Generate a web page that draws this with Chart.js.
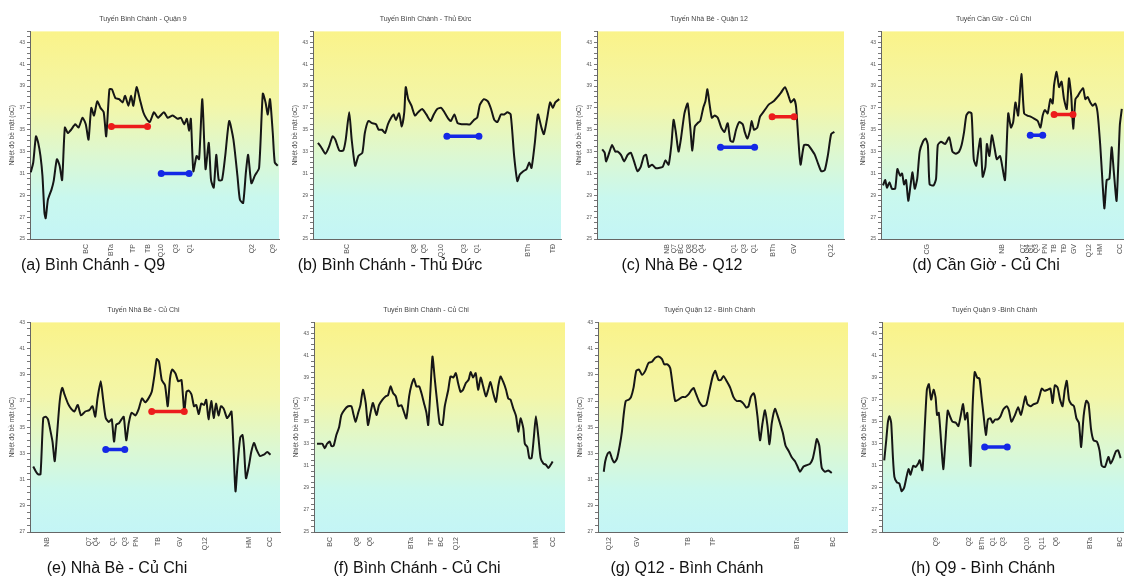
<!DOCTYPE html>
<html>
<head>
<meta charset="utf-8">
<script src="https://cdn.jsdelivr.net/npm/chart.js@4/dist/chart.umd.min.js"></script>
<style>
  html, body { margin: 0; padding: 0; background: #fff; width: 1124px; height: 587px; overflow: hidden; }
  body { position: relative; font-family: "Liberation Sans", Arial, sans-serif; }
  canvas { position: absolute; }
  .cap { position: absolute; width: 300px; text-align: center; font-size: 16px; line-height: 20px; color: #111; z-index: 2; white-space: nowrap; }
</style>
</head>
<body>
<canvas id="a" width="280" height="268" style="left:3px;top:0px"></canvas>
<canvas id="b" width="279" height="268" style="left:286px;top:0px"></canvas>
<canvas id="c" width="278" height="268" style="left:570px;top:0px"></canvas>
<canvas id="d" width="279" height="268" style="left:854px;top:0px"></canvas>
<canvas id="e" width="281" height="270" style="left:3px;top:291px"></canvas>
<canvas id="f" width="278" height="270" style="left:287px;top:291px"></canvas>
<canvas id="g" width="277" height="270" style="left:571px;top:291px"></canvas>
<canvas id="h" width="279" height="270" style="left:855px;top:291px"></canvas>

<div class="cap" style="left:-57px;top:255px">(a) Bình Chánh - Q9</div>
<div class="cap" style="left:240px;top:255px">(b) Bình Chánh - Thủ Đức</div>
<div class="cap" style="left:532px;top:255px">(c) Nhà Bè - Q12</div>
<div class="cap" style="left:836px;top:255px">(d) Cần Giờ - Củ Chi</div>
<div class="cap" style="left:-33px;top:558px">(e) Nhà Bè - Củ Chi</div>
<div class="cap" style="left:267px;top:558px">(f) Bình Chánh - Củ Chi</div>
<div class="cap" style="left:537px;top:558px">(g) Q12 - Bình Chánh</div>
<div class="cap" style="left:833px;top:558px">(h) Q9 - Bình Chánh</div>

<script>
// distance along the route (% of route length) and surface temperature (oC)
const distA = [0.3,1.3,2.4,3.3,4.2,5.0,5.8,6.3,7.2,8.6,9.5,10.8,11.9,12.9,14.0,15.2,16.5,18.2,19.5,21.1,22.4,23.5,24.6,25.7,27.0,28.3,29.6,30.6,31.9,32.9,34.3,35.8,37.2,38.2,39.5,40.6,41.5,42.8,44.1,45.5,46.8,48.1,49.8,51.4,53.8,55.3,57.3,59.3,60.6,61.9,63.0,63.9,64.6,65.6,66.9,67.9,69.2,70.5,71.8,72.7,73.8,74.8,75.8,77.1,78.4,80.0,81.7,83.3,84.3,85.6,86.7,87.6,88.9,90.3,92.0,93.5,94.6,95.5,96.4,97.5,98.3,99.5];
const tempA = [31.1,32.0,34.4,33.8,32.6,30.8,27.4,26.9,28.6,29.5,30.3,32.3,31.7,30.4,35.2,34.7,35.0,35.5,35.2,36.1,35.5,34.1,37.0,36.3,37.6,37.0,36.6,34.4,38.7,38.7,37.9,37.8,37.5,38.1,37.2,38.1,37.2,38.9,37.8,36.6,36.0,35.7,36.6,36.1,36.6,36.1,36.3,36.0,36.1,35.5,36.0,34.9,36.0,31.2,32.6,32.3,37.8,31.4,33.8,30.4,29.7,32.7,30.4,30.4,32.6,35.8,34.1,30.8,28.6,28.3,31.1,32.7,30.1,30.8,31.5,38.3,37.5,36.4,37.8,34.7,32.0,31.7];
const stationPosA = [22.7,32.7,41.5,47.4,52.7,58.6,64.3,89.3,97.5];
const stationNamesA = ['BC','BTa','TP','TB','Q10','Q3','Q1','Q2','Q9'];
const hotSpanA = [32.7, 47.2], hotTempA = 35.3;
const coolSpanA = [52.7, 63.9], coolTempA = 31.0;

const distB = [2.0,3.3,5.0,6.4,7.9,9.0,10.6,12.2,13.2,14.6,15.6,17.0,18.3,19.9,20.9,22.3,23.8,25.4,26.5,27.8,29.1,30.2,31.5,32.5,33.4,34.7,35.8,36.8,37.4,38.4,39.7,41.1,42.4,44.0,45.7,47.4,48.7,50.1,51.7,53.0,54.6,55.6,57.0,58.3,59.9,61.6,63.3,64.9,66.2,67.3,68.9,70.5,71.8,73.1,74.4,75.8,77.1,78.4,79.7,81.1,82.4,83.4,84.8,86.1,87.2,88.1,89.4,90.7,92.1,93.1,94.3,95.6,96.7,97.7,99.3];
const tempB = [33.8,33.4,32.8,33.4,34.4,34.1,33.1,33.1,34.1,36.6,34.1,31.7,32.6,32.9,34.7,35.8,35.6,35.5,35.0,35.0,34.7,35.5,36.1,36.4,35.9,36.5,35.3,36.6,38.9,37.8,37.2,36.3,36.6,36.9,36.4,35.8,36.4,36.9,37.0,36.6,36.0,35.8,36.4,35.6,35.5,35.5,35.5,35.9,36.1,37.3,37.8,37.6,36.9,35.9,35.7,36.4,36.4,36.6,36.4,32.6,30.3,30.9,31.2,31.4,32.0,31.5,33.7,36.4,35.2,34.6,35.9,37.5,37.0,37.5,37.8];
const stationPosB = [13.9,40.8,44.8,51.7,60.9,66.0,86.8,97.0];
const stationNamesB = ['BC','Q8','Q5','Q10','Q3','Q1','BTh','TĐ'];
const coolSpanB = [54.0, 66.9], coolTempB = 34.4;

const distC = [2.1,3.1,3.7,5.1,6.1,7.4,8.4,9.7,11.0,12.4,13.7,15.0,16.4,17.7,19.0,19.9,21.0,22.3,23.7,25.0,26.6,27.7,29.0,30.1,31.0,31.9,33.0,34.0,35.4,36.7,37.8,38.6,39.6,40.7,41.8,43.0,43.9,44.7,45.6,46.5,47.6,48.9,50.3,51.6,52.9,54.0,55.1,56.3,57.6,59.0,59.8,60.9,62.0,62.6,63.6,64.9,66.0,67.6,69.5,71.5,73.1,74.5,76.1,77.4,78.5,79.8,80.6,81.5,82.4,83.8,85.5,86.8,88.2,89.5,90.8,92.2,93.5,94.8,96.1];
const tempC = [33.2,32.9,32.1,33.0,33.6,33.0,33.0,32.7,32.1,32.7,32.9,32.1,31.2,31.6,32.6,32.7,31.6,31.8,31.5,31.5,31.6,32.2,31.8,33.6,35.9,34.8,33.0,34.2,36.5,37.4,35.1,33.1,35.3,35.6,35.8,37.0,37.6,38.7,37.3,36.1,36.3,36.1,35.2,34.8,35.6,34.0,33.9,35.0,35.7,35.5,34.8,34.2,35.0,35.8,35.0,35.2,36.2,36.7,37.3,37.6,38.0,38.4,38.9,38.2,37.5,37.8,37.1,34.2,31.8,33.6,33.6,33.2,32.7,31.9,31.2,31.3,32.7,34.6,34.8];
const stationPosC = [28.3,31.0,34.0,37.2,39.9,42.6,55.6,59.6,63.6,71.3,79.8,94.8];
const stationNamesC = ['NB','Q7','BC','Q8','Q5','Q4','Q1','Q3','Q1','BTh','GV','Q12'];
const hotSpanC = [70.9, 79.8], hotTempC = 36.2;
const coolSpanC = [50.0, 63.8], coolTempC = 33.4;

const distD = [0.8,1.7,2.4,3.4,4.4,5.7,6.6,7.7,8.5,9.3,10.1,11.0,11.9,12.7,13.6,14.6,15.6,16.9,18.0,18.9,19.6,21.2,22.2,22.9,24.2,25.9,27.5,28.8,30.2,31.5,32.5,33.5,34.4,35.4,36.5,37.4,38.4,39.2,40.1,41.0,42.1,42.7,43.7,44.7,45.8,46.7,48.0,48.7,50.0,51.3,52.4,53.3,54.2,55.3,56.6,57.7,59.0,60.3,61.9,63.2,64.3,65.2,66.1,67.2,68.3,69.2,69.8,70.8,71.8,72.8,73.8,74.9,75.8,76.7,77.5,78.4,79.4,80.4,81.5,82.4,83.3,84.4,85.4,86.4,87.3,88.4,89.4,90.1,91.0,92.1,93.0,93.9,95.0,96.3,97.1];
const tempD = [29.9,30.4,29.7,30.2,29.6,29.6,31.4,30.8,31.0,30.0,30.4,28.5,29.9,31.1,29.6,30.5,33.0,33.9,34.2,33.6,30.0,29.9,30.5,33.6,33.9,33.7,34.3,33.0,32.8,33.0,33.6,34.8,36.3,36.6,36.5,32.3,31.7,33.0,34.2,30.7,31.6,33.7,32.6,34.5,33.3,32.3,32.6,31.9,30.4,36.5,35.2,35.7,37.5,36.3,40.1,36.5,36.3,36.2,36.0,35.8,35.2,36.3,36.8,36.5,37.8,37.4,39.1,40.3,38.9,39.4,37.8,36.9,39.7,38.1,35.1,37.8,38.1,38.5,38.8,37.8,38.0,37.5,37.2,37.4,36.6,33.6,29.9,27.8,30.4,30.5,33.4,31.1,28.5,35.4,36.9];
const stationPosD = [18.5,48.7,57.3,59.0,60.7,62.4,66.1,69.8,73.8,77.8,83.7,88.4,96.3];
const stationNamesD = ['CG','NB','Q7','Q4','Q1','Q3','PN','TB','TĐ','GV','Q12','HM','CC'];
const hotSpanD = [69.8, 77.4], hotTempD = 36.4;
const coolSpanD = [60.2, 65.2], coolTempD = 34.5;

const distE = [1.3,2.4,3.3,4.2,5.3,6.3,7.2,8.2,9.0,9.9,10.8,11.9,12.9,13.8,15.2,16.5,17.8,19.1,20.4,22.1,23.7,25.0,26.1,27.0,28.3,29.2,30.3,31.6,32.7,33.6,34.5,35.6,36.6,37.5,38.5,39.5,40.6,42.2,43.5,44.8,46.1,47.4,48.7,49.8,50.7,51.6,52.7,54.0,55.1,56.0,56.9,58.2,59.3,60.6,61.7,62.6,63.5,64.6,65.6,66.5,67.5,68.5,69.6,70.5,71.4,72.5,73.5,74.4,75.4,76.4,77.5,78.8,79.7,80.6,81.4,82.2,83.0,84.1,85.0,85.6,86.4,87.6,88.5,89.6,90.6,92.0,93.5,94.9,96.2];
const tempE = [32.0,31.6,31.4,31.4,35.7,35.8,35.6,34.7,33.9,32.4,34.4,37.0,38.0,37.5,36.8,36.4,36.2,36.7,35.9,36.2,36.3,36.6,35.8,37.2,38.5,37.2,35.7,35.4,35.6,33.9,35.2,35.3,35.6,35.8,34.0,35.3,36.1,35.9,36.4,37.2,36.9,37.2,37.7,39.0,40.2,40.0,38.6,38.2,36.6,38.7,39.4,39.1,38.5,38.6,36.2,37.7,37.8,37.5,36.6,36.7,36.0,36.8,36.7,37.1,35.6,37.0,35.7,36.8,35.9,36.6,36.4,35.7,35.9,36.2,33.4,30.1,32.1,34.2,34.4,33.4,31.1,32.1,33.1,33.8,33.3,32.8,32.9,33.1,32.9];
const stationPosE = [7.0,23.5,26.4,33.3,38.2,42.4,51.1,59.9,70.1,87.6,95.9];
const stationNamesE = ['NB','Q7','Q4','Q1','Q3','PN','TB','GV','Q12','HM','CC'];
const hotSpanE = [48.7, 61.7], hotTempE = 36.2;
const coolSpanE = [30.3, 37.9], coolTempE = 33.3;

const distF = [1.2,2.3,3.3,4.3,5.2,6.3,6.9,7.8,8.9,10.0,10.9,12.2,13.6,14.9,15.8,16.6,17.6,18.5,19.5,20.6,21.5,22.5,23.5,24.9,25.9,27.3,28.6,29.5,30.5,31.5,32.6,33.6,34.8,35.8,36.8,37.9,38.8,39.8,40.8,41.9,42.8,43.8,44.8,45.5,46.4,47.2,48.1,49.1,50.1,51.2,52.1,53.5,54.4,55.5,56.5,57.4,58.4,59.4,60.5,61.6,62.4,63.4,64.4,65.4,66.4,67.4,68.5,69.4,70.3,71.4,72.5,73.4,74.3,75.4,76.5,77.4,78.3,79.4,80.5,81.4,82.3,83.4,84.0,85.0,85.8,86.7,87.6,88.4,89.4,90.3,91.4,92.4,93.4,94.3,95.1];
const tempF = [33.0,33.0,33.0,32.6,33.0,33.2,32.8,32.8,33.8,34.5,35.6,36.1,36.4,36.4,35.6,35.0,35.8,36.5,37.9,36.7,34.7,35.8,36.7,35.6,36.5,37.0,37.3,37.4,38.2,37.6,37.3,36.4,36.5,35.9,35.3,37.3,38.3,38.9,38.2,38.2,37.6,36.7,35.8,34.7,37.9,40.9,38.9,36.7,34.8,34.7,36.4,37.9,39.1,39.0,39.4,38.5,37.7,37.9,38.5,38.8,39.5,39.0,39.4,37.9,39.0,38.2,37.3,37.9,38.6,37.6,36.8,38.2,39.1,38.6,37.9,37.1,37.0,36.2,35.5,34.1,35.3,34.4,33.0,32.7,31.7,31.7,33.6,35.5,33.6,31.7,31.2,31.1,30.8,31.1,31.4];
const stationPosF = [6.3,17.2,22.5,38.8,46.8,50.8,56.5,88.4,95.1];
const stationNamesF = ['BC','Q8','Q6','BTa','TP','BC','Q12','HM','CC'];

const distG = [2.3,2.9,3.9,4.7,5.6,6.5,7.6,8.7,9.6,10.3,11.1,12.3,13.2,14.2,15.3,16.4,17.6,18.9,20.2,21.6,22.9,24.2,25.6,26.5,27.8,28.9,30.0,30.9,32.2,33.6,34.9,36.2,37.2,38.2,39.3,40.6,41.9,43.3,44.6,45.9,46.9,48.2,49.1,50.2,51.5,52.9,54.2,55.5,56.9,58.2,59.3,60.2,61.1,62.2,62.8,63.8,64.8,65.8,66.8,67.8,68.6,69.5,70.8,71.8,72.8,73.9,75.0,76.2,77.5,78.8,79.8,80.8,82.2,83.5,84.8,85.9,86.8,87.5,88.5,89.5,90.8,92.1,93.5];
const tempG = [31.6,32.4,33.0,33.1,32.6,32.3,32.6,33.6,34.7,36.0,37.0,37.1,37.3,38.0,39.3,39.4,39.0,39.3,39.9,40.0,40.3,40.4,40.2,39.8,39.8,39.5,38.0,37.0,37.1,37.3,37.3,37.5,37.8,38.0,37.5,36.9,36.6,36.7,37.8,38.9,39.3,38.6,38.6,38.9,38.5,38.0,37.3,37.0,37.0,36.8,36.5,36.6,37.3,37.6,37.3,35.8,34.0,35.3,36.3,35.1,33.7,35.3,36.4,35.9,35.3,34.6,33.6,33.2,32.7,32.4,32.0,31.6,32.0,32.1,32.2,32.6,33.4,34.1,33.6,31.9,31.6,31.7,31.5];
const stationPosG = [4.3,15.8,36.2,45.9,79.8,93.9];
const stationNamesG = ['Q12','GV','TB','TP','BTa','BC'];

const distH = [0.9,1.7,2.4,3.0,3.7,4.4,5.0,6.0,7.0,7.9,8.9,9.9,10.7,11.5,12.6,13.6,14.6,15.2,16.3,17.2,18.1,18.9,19.8,20.8,21.6,22.2,22.9,23.8,24.7,25.5,26.5,27.4,28.4,29.8,30.8,31.7,32.7,33.5,34.4,35.1,35.7,36.6,37.4,38.4,39.3,40.1,41.0,41.9,42.7,43.7,44.6,45.6,46.7,47.8,48.9,50.3,51.2,52.2,53.6,54.9,56.0,56.9,57.8,58.6,59.9,61.2,62.6,63.5,64.4,65.5,66.8,67.9,68.8,69.7,70.8,71.8,72.8,73.7,74.5,75.4,76.3,77.4,78.4,79.4,80.3,81.3,82.4,83.3,84.3,85.3,86.6,87.7,88.6,89.9,91.3,92.2,93.3,94.3,95.2,96.2];
const tempH = [31.5,33.3,35.0,35.5,34.9,31.8,30.0,29.5,29.4,28.7,29.0,30.0,30.7,30.2,31.0,30.9,31.2,31.5,30.6,34.3,37.9,38.4,37.0,37.9,37.2,35.6,35.8,33.3,30.7,33.0,36.0,35.5,35.0,34.9,34.6,35.5,36.6,35.2,35.8,33.3,31.0,36.7,39.5,39.0,38.9,37.3,35.5,33.8,35.2,35.3,34.9,35.2,35.2,35.5,36.1,36.4,36.0,35.0,35.6,36.3,35.6,36.4,37.3,36.6,36.4,36.6,36.7,37.3,38.0,37.8,37.9,38.0,36.7,38.3,38.1,37.0,36.4,37.9,38.7,37.0,36.6,36.4,35.3,34.9,32.7,35.5,36.9,36.6,34.3,33.3,33.2,32.4,31.0,30.9,31.8,31.2,31.7,32.3,32.4,31.7];
const stationPosH = [21.6,35.1,40.3,44.6,48.9,58.6,64.4,70.1,83.7,95.9];
const stationNamesH = ['Q9','Q2','BTh','Q1','Q3','Q10','Q11','Q6','BTa','BC'];
const coolSpanH = [41.4, 50.5], coolTempH = 32.7;

const chartTitles = ['Tuyến Bình Chánh - Quận 9','Tuyến Bình Chánh - Thủ Đức','Tuyến Nhà Bè - Quận 12','Tuyến Cần Giờ - Củ Chi',
  'Tuyến Nhà Bè - Củ Chi','Tuyến Bình Chánh - Củ Chi','Tuyến Quận 12 - Bình Chánh','Tuyến Quận 9 -Bình Chánh'];
const yLabelsWide = [25,27,29,31,33,35,37,39,41,43];
const yLabelsNarrow = [27,29,31,33,35,37,39,41,43];

Chart.defaults.font.family = '"Liberation Sans", Arial, sans-serif';

const bgPlugin = {
  id: 'bg',
  beforeDraw(chart) {
    const { ctx, chartArea: a } = chart;
    const g = ctx.createLinearGradient(0, a.top, 0, a.bottom);
    g.addColorStop(0, '#faf38a');
    g.addColorStop(0.35, '#f3f6a8');
    g.addColorStop(0.6, '#dcf8d2');
    g.addColorStop(0.8, '#c9f8ee');
    g.addColorStop(1, '#c4f5f6');
    ctx.save();
    ctx.fillStyle = g;
    ctx.fillRect(a.left, a.top, a.right - a.left, a.bottom - a.top);
    ctx.restore();
  }
};

function spanSet(span, t, color) {
  return {
    data: [{ x: span[0], y: t }, { x: span[1], y: t }],
    borderColor: color, backgroundColor: color, borderWidth: 3.5,
    pointRadius: 3.5, pointBackgroundColor: color, pointBorderWidth: 0
  };
}

function drawPanel(id, idx, dist, temp, pos, names, yMin, yMax, yLabels, hot, cool) {
  const sets = [];
  if (hot) sets.push(spanSet(hot[0], hot[1], '#ec1c1c'));
  if (cool) sets.push(spanSet(cool[0], cool[1], '#1428e6'));
  sets.push({
    data: dist.map((d, i) => ({ x: d, y: temp[i] })),
    borderColor: '#161616', borderWidth: 2, pointRadius: 0, tension: 0.2
  });
  new Chart(document.getElementById(id), {
    type: 'line',
    data: { datasets: sets },
    plugins: [bgPlugin],
    options: {
      responsive: false,
      animation: false,
      devicePixelRatio: 1,
      layout: { padding: 0 },
      plugins: {
        legend: { display: false },
        tooltip: { enabled: false },
        title: { display: true, text: chartTitles[idx], color: '#444', font: { size: 7, weight: 'normal' }, padding: { top: 15, bottom: 8 } }
      },
      scales: {
        x: {
          type: 'linear', min: 0, max: 100,
          afterBuildTicks: s => { s.ticks = pos.map(v => ({ value: v })); },
          afterFit: s => { s.height = 29; s.paddingLeft = 0; s.paddingRight = 0; },
          ticks: { autoSkip: false, minRotation: 90, maxRotation: 90, padding: 5, color: '#555', font: { size: 7 },
            callback: (v, i) => names[i] },
          grid: { display: true, drawOnChartArea: false, drawTicks: false },
          border: { color: '#666', width: 1 }
        },
        y: {
          min: yMin, max: yMax,
          afterBuildTicks: s => {
            const t = [];
            for (let v = yMin; v <= yMax + 1e-9; v += 0.5) t.push({ value: v });
            s.ticks = t;
          },
          afterFit: s => { s.width = 27; s.paddingTop = 0; s.paddingBottom = 0; },
          ticks: { autoSkip: false, padding: 2, color: '#555', font: { size: 5 },
            callback: v => yLabels.includes(v) ? String(v) : '' },
          grid: { drawOnChartArea: false, tickLength: 3, color: '#777' },
          border: { color: '#666', width: 1 },
          title: { display: true, text: 'Nhiệt độ bề mặt (oC)', color: '#444', font: { size: 6.5 }, padding: { top: 5, bottom: 0 } }
        }
      }
    }
  });
}

drawPanel('a', 0, distA, tempA, stationPosA, stationNamesA, 25, 44, yLabelsWide, [hotSpanA, hotTempA], [coolSpanA, coolTempA]);
drawPanel('b', 1, distB, tempB, stationPosB, stationNamesB, 25, 44, yLabelsWide, null, [coolSpanB, coolTempB]);
drawPanel('c', 2, distC, tempC, stationPosC, stationNamesC, 25, 44, yLabelsWide, [hotSpanC, hotTempC], [coolSpanC, coolTempC]);
drawPanel('d', 3, distD, tempD, stationPosD, stationNamesD, 25, 44, yLabelsWide, [hotSpanD, hotTempD], [coolSpanD, coolTempD]);
drawPanel('e', 4, distE, tempE, stationPosE, stationNamesE, 27, 43, yLabelsNarrow, [hotSpanE, hotTempE], [coolSpanE, coolTempE]);
drawPanel('f', 5, distF, tempF, stationPosF, stationNamesF, 25, 44, yLabelsWide, null, null);
drawPanel('g', 6, distG, tempG, stationPosG, stationNamesG, 27, 43, yLabelsNarrow, null, null);
drawPanel('h', 7, distH, tempH, stationPosH, stationNamesH, 25, 44, yLabelsWide, null, [coolSpanH, coolTempH]);
</script>
</body>
</html>
